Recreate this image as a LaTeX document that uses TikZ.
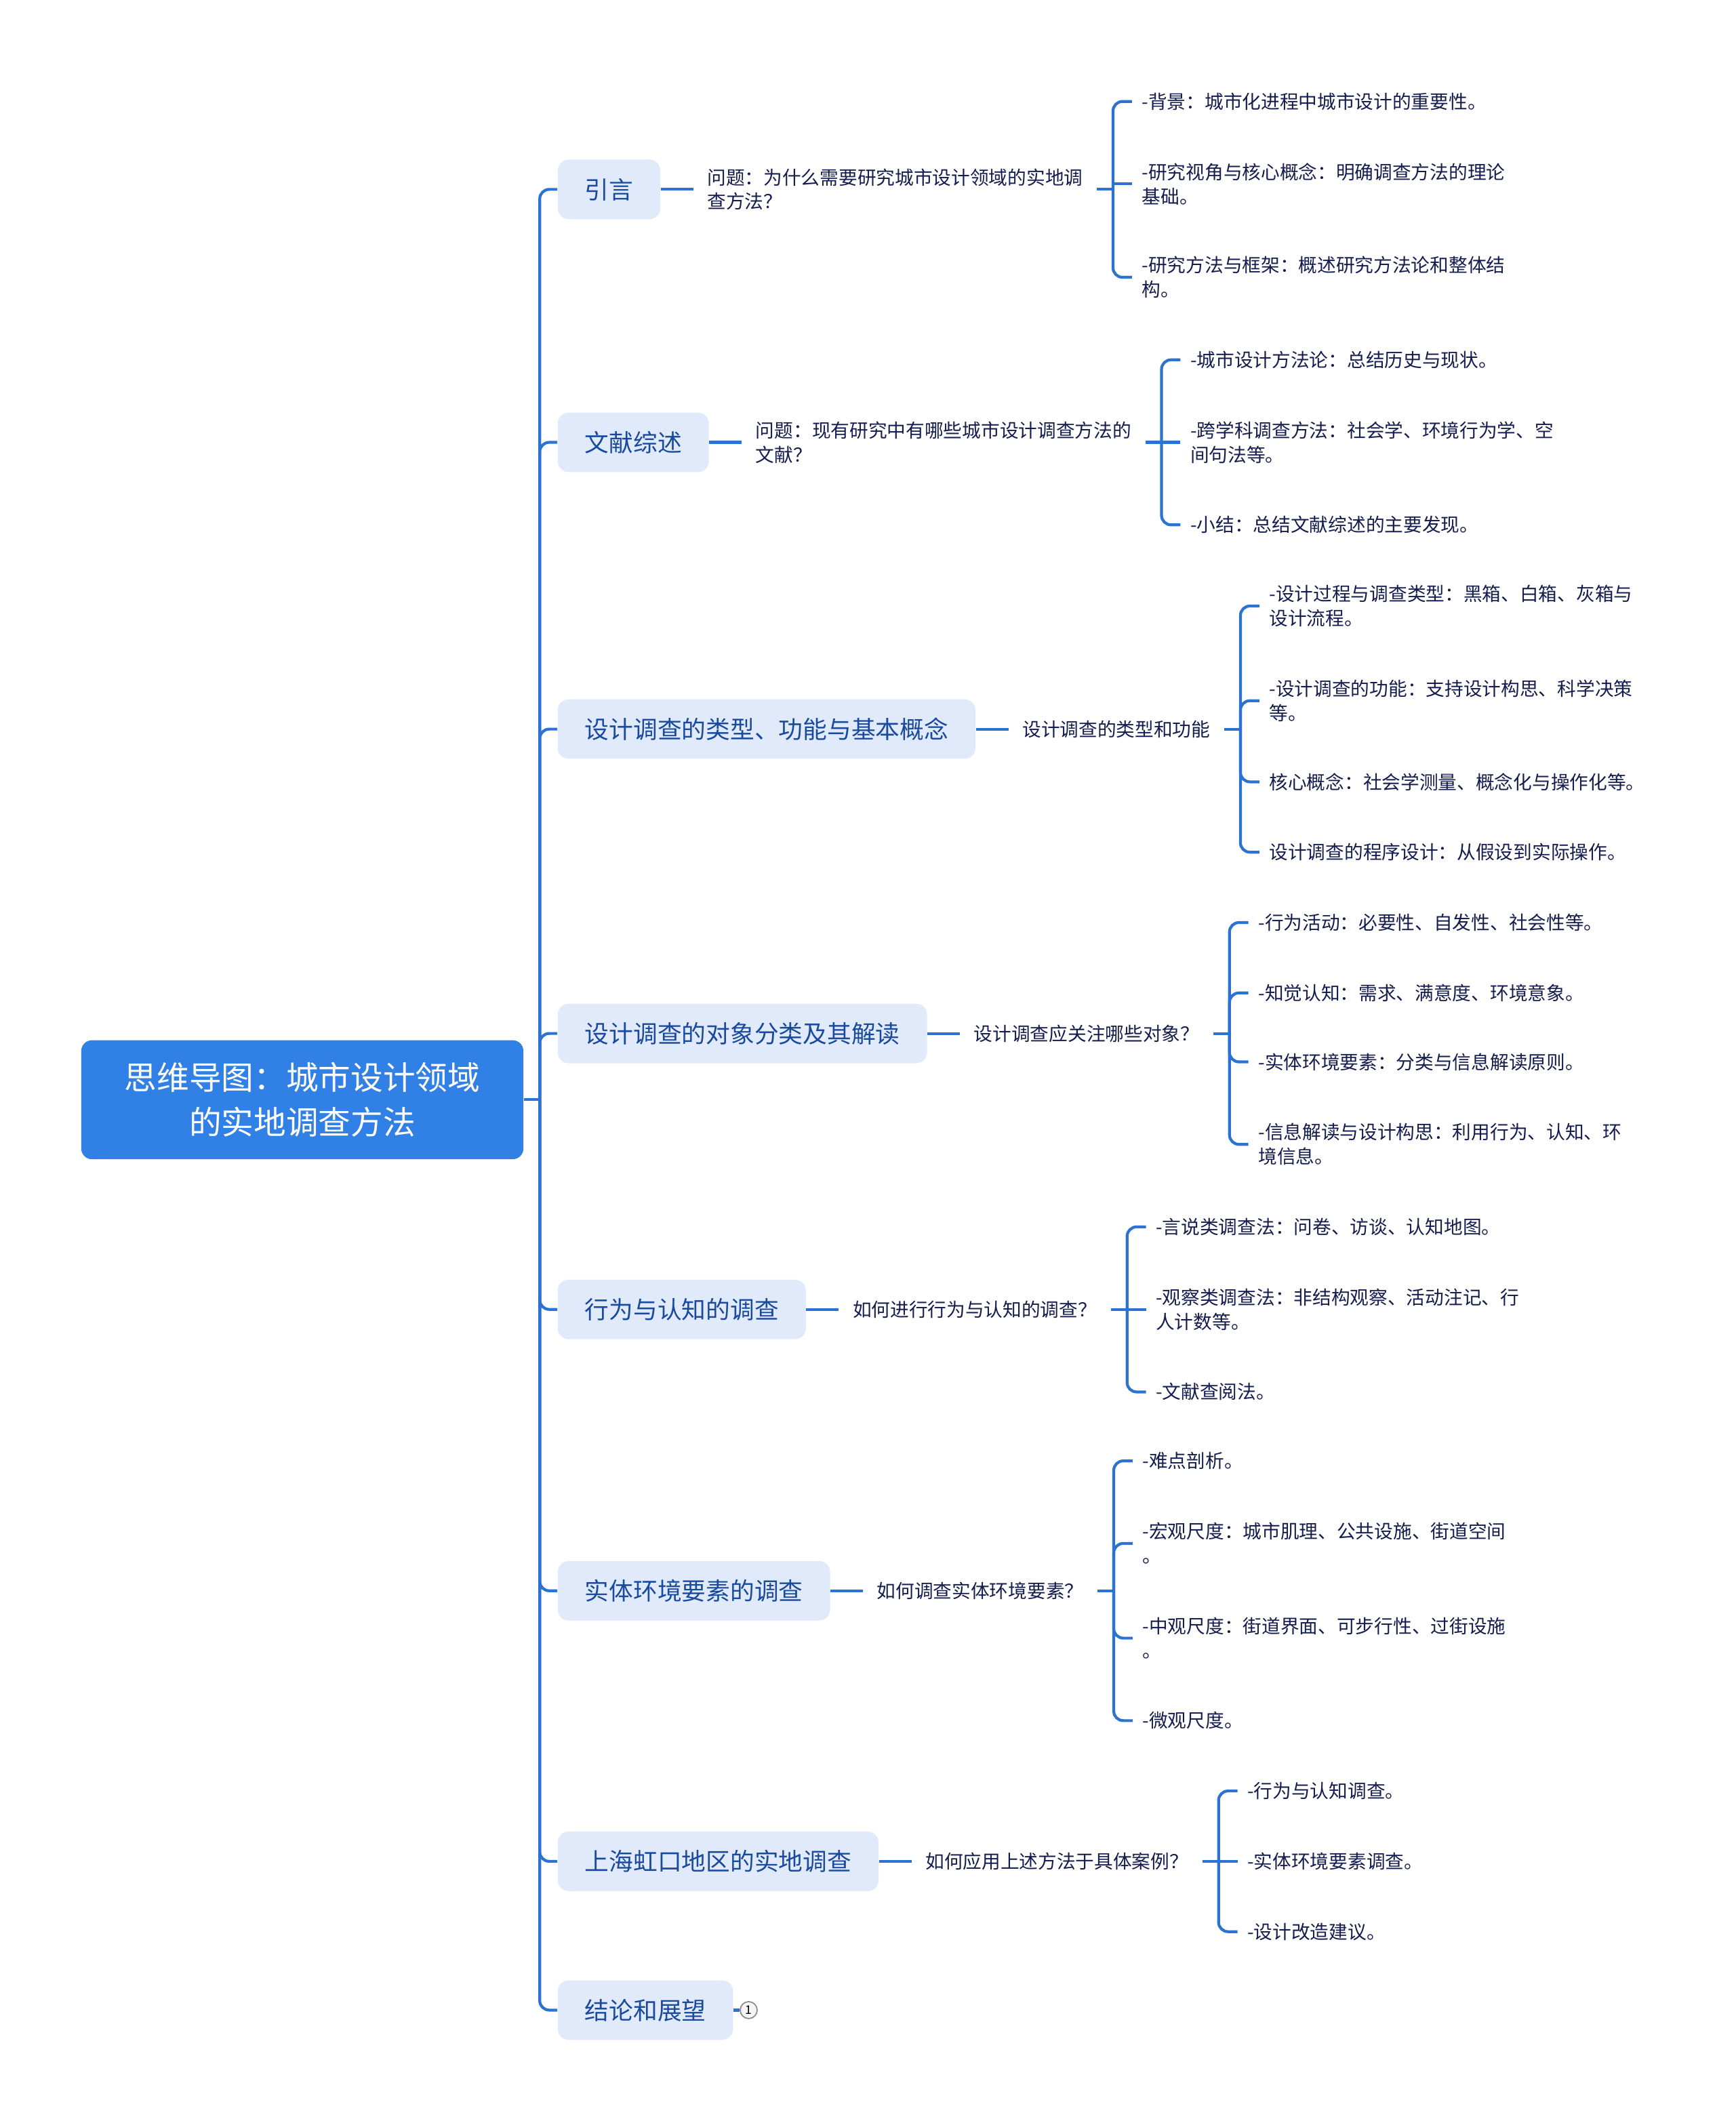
\documentclass[tikz,border=0pt]{standalone}
\usepackage{fontspec}
\setmainfont{Noto Sans CJK SC}
\usepackage{xcolor}
\usetikzlibrary{positioning, calc}

\definecolor{rootblue}{HTML}{3180E6}
\definecolor{topicfill}{HTML}{E1EAFB}
\definecolor{topictext}{HTML}{1A4A9E}
\definecolor{leaftext}{HTML}{151C4E}
\definecolor{linkblue}{HTML}{2C72D4}

\begin{document}
\begin{tikzpicture}[
    x=0.02cm, y=-0.02cm,
    rootbox/.style={fill=rootblue, text=white, rounded corners=0.16cm, align=center,
                    minimum width=6.54cm, minimum height=1.76cm,
                    font=\fontsize{13.6pt}{19pt}\selectfont},
    topic/.style={fill=topicfill, text=topictext, rounded corners=0.16cm,
                  minimum height=0.88cm, inner xsep=0.4cm, inner ysep=0pt,
                  font=\fontsize{10.2pt}{12pt}\selectfont},
    ques/.style={text=leaftext, align=left, inner xsep=0.2cm, inner ysep=0pt,
                 font=\fontsize{7.9pt}{10.2pt}\selectfont},
    item/.style={ques, inner xsep=0.14cm},
    badge/.style={circle, draw=gray!90, fill=gray!8, line width=0.5pt, inner sep=0pt,
                  minimum size=0.25cm, font=\fontsize{5pt}{6pt}\selectfont},
    link/.style={draw=linkblue, line width=1.2pt, rounded corners=0.14cm},
    node distance=0.48cm
]
\useasboundingbox (0,0) rectangle (1283,1568);

\node[rootbox] (root) at (223.5,813) {思维导图：城市设计领域\\的实地调查方法};

\node[topic, anchor=west] (t1) at (412,140) {引言};
\node[topic, anchor=west] (t2) at (412,327) {文献综述};
\node[topic, anchor=west] (t3) at (412,539) {设计调查的类型、功能与基本概念};
\node[topic, anchor=west] (t4) at (412,764) {设计调查的对象分类及其解读};
\node[topic, anchor=west] (t5) at (412,968) {行为与认知的调查};
\node[topic, anchor=west] (t6) at (412,1176) {实体环境要素的调查};
\node[topic, anchor=west] (t7) at (412,1376) {上海虹口地区的实地调查};
\node[topic, anchor=west] (t8) at (412,1486) {结论和展望};

\coordinate (trunk) at (399,813);
\draw[link] (root.east) -- (trunk);
\draw[link] (t1.west) -| (trunk) |- (t8.west);
\draw[link] (trunk) |- (t2.west);
\draw[link] (trunk) |- (t3.west);
\draw[link] (trunk) |- (t4.west);
\draw[link] (trunk) |- (t5.west);
\draw[link] (trunk) |- (t6.west);
\draw[link] (trunk) |- (t7.west);

% 引言
\node[ques, right=of t1] (q1) {问题：为什么需要研究城市设计领域的实地调\\查方法？};
\coordinate[right=0.24cm of q1] (b1);
\node[item, anchor=west] (c1a) at ($(b1)+(14,-65)$) {-背景：城市化进程中城市设计的重要性。};
\node[item, anchor=west] (c1b) at ($(b1)+(14,-4)$) {-研究视角与核心概念：明确调查方法的理论\\基础。};
\node[item, anchor=west] (c1c) at ($(b1)+(14,65)$) {-研究方法与框架：概述研究方法论和整体结\\构。};
\draw[link] (t1) -- (q1);
\draw[link] (q1) -- (b1);
\draw[link] (c1a.west) -| (b1) |- (c1c.west);
\draw[link] (c1b.west -| b1) -- (c1b.west);

% 文献综述
\node[ques, right=of t2] (q2) {问题：现有研究中有哪些城市设计调查方法的\\文献？};
\coordinate[right=0.24cm of q2] (b2);
\node[item, anchor=west] (c2a) at ($(b2)+(14,-61)$) {-城市设计方法论：总结历史与现状。};
\node[item, anchor=west] (c2b) at ($(b2)+(14,0)$) {-跨学科调查方法：社会学、环境行为学、空\\间句法等。};
\node[item, anchor=west] (c2c) at ($(b2)+(14,61)$) {-小结：总结文献综述的主要发现。};
\draw[link] (t2) -- (q2);
\draw[link] (q2) -- (b2);
\draw[link] (c2a.west) -| (b2) |- (c2c.west);
\draw[link] (b2) -- (c2b.west);

% 类型、功能与基本概念
\node[ques, right=of t3] (q3) {设计调查的类型和功能};
\coordinate[right=0.24cm of q3] (b3);
\node[item, anchor=west] (c3a) at ($(b3)+(14,-91)$) {-设计过程与调查类型：黑箱、白箱、灰箱与\\设计流程。};
\node[item, anchor=west] (c3b) at ($(b3)+(14,-21)$) {-设计调查的功能：支持设计构思、科学决策\\等。};
\node[item, anchor=west] (c3c) at ($(b3)+(14,39)$) {核心概念：社会学测量、概念化与操作化等。};
\node[item, anchor=west] (c3d) at ($(b3)+(14,91)$) {设计调查的程序设计：从假设到实际操作。};
\draw[link] (t3) -- (q3);
\draw[link] (q3) -- (b3);
\draw[link] (c3a.west) -| (b3) |- (c3d.west);
\draw[link] (b3) |- (c3b.west);
\draw[link] (b3) |- (c3c.west);

% 对象分类及其解读
\node[ques, right=of t4] (q4) {设计调查应关注哪些对象？};
\coordinate[right=0.24cm of q4] (b4);
\node[item, anchor=west] (c4a) at ($(b4)+(14,-82)$) {-行为活动：必要性、自发性、社会性等。};
\node[item, anchor=west] (c4b) at ($(b4)+(14,-30)$) {-知觉认知：需求、满意度、环境意象。};
\node[item, anchor=west] (c4c) at ($(b4)+(14,21)$) {-实体环境要素：分类与信息解读原则。};
\node[item, anchor=west] (c4d) at ($(b4)+(14,82)$) {-信息解读与设计构思：利用行为、认知、环\\境信息。};
\draw[link] (t4) -- (q4);
\draw[link] (q4) -- (b4);
\draw[link] (c4a.west) -| (b4) |- (c4d.west);
\draw[link] (b4) |- (c4b.west);
\draw[link] (b4) |- (c4c.west);

% 行为与认知
\node[ques, right=of t5] (q5) {如何进行行为与认知的调查？};
\coordinate[right=0.24cm of q5] (b5);
\node[item, anchor=west] (c5a) at ($(b5)+(14,-61)$) {-言说类调查法：问卷、访谈、认知地图。};
\node[item, anchor=west] (c5b) at ($(b5)+(14,0)$) {-观察类调查法：非结构观察、活动注记、行\\人计数等。};
\node[item, anchor=west] (c5c) at ($(b5)+(14,61)$) {-文献查阅法。};
\draw[link] (t5) -- (q5);
\draw[link] (q5) -- (b5);
\draw[link] (c5a.west) -| (b5) |- (c5c.west);
\draw[link] (b5) -- (c5b.west);

% 实体环境要素
\node[ques, right=of t6] (q6) {如何调查实体环境要素？};
\coordinate[right=0.24cm of q6] (b6);
\node[item, anchor=west] (c6a) at ($(b6)+(14,-96)$) {-难点剖析。};
\node[item, anchor=west] (c6b) at ($(b6)+(14,-35)$) {-宏观尺度：城市肌理、公共设施、街道空间\\。};
\node[item, anchor=west] (c6c) at ($(b6)+(14,35)$) {-中观尺度：街道界面、可步行性、过街设施\\。};
\node[item, anchor=west] (c6d) at ($(b6)+(14,96)$) {-微观尺度。};
\draw[link] (t6) -- (q6);
\draw[link] (q6) -- (b6);
\draw[link] (c6a.west) -| (b6) |- (c6d.west);
\draw[link] (b6) |- (c6b.west);
\draw[link] (b6) |- (c6c.west);

% 上海虹口
\node[ques, right=of t7] (q7) {如何应用上述方法于具体案例？};
\coordinate[right=0.24cm of q7] (b7);
\node[item, anchor=west] (c7a) at ($(b7)+(14,-52)$) {-行为与认知调查。};
\node[item, anchor=west] (c7b) at ($(b7)+(14,0)$) {-实体环境要素调查。};
\node[item, anchor=west] (c7c) at ($(b7)+(14,52)$) {-设计改造建议。};
\draw[link] (t7) -- (q7);
\draw[link] (q7) -- (b7);
\draw[link] (c7a.west) -| (b7) |- (c7c.west);
\draw[link] (b7) -- (c7b.west);

% 结论和展望
\node[badge, right=0.09cm of t8] (n8) {1};
\draw[link] (t8) -- (n8);
\end{tikzpicture}
\end{document}
